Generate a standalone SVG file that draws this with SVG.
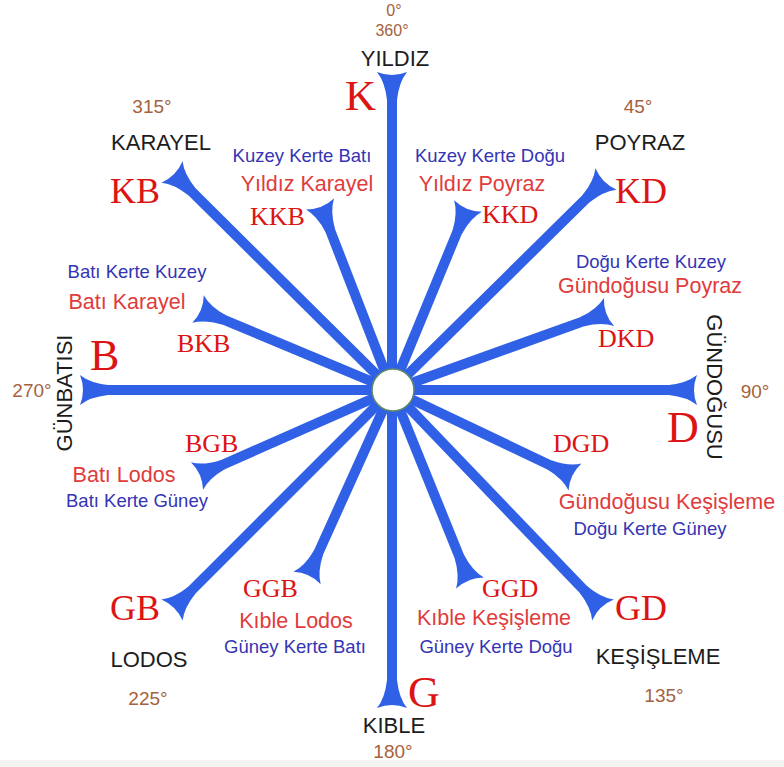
<svg xmlns="http://www.w3.org/2000/svg" xmlns:xlink="http://www.w3.org/1999/xlink" width="784" height="767" viewBox="0 0 784 767">
<style>
.ray{stroke:#3060e6;stroke-width:10;fill:none;stroke-linecap:butt}
.ah{fill:#3060e6}
.blk{font-family:"Liberation Sans",Arial,sans-serif;font-size:22px;fill:#1c1c1c;text-anchor:middle}
.deg{font-family:"Liberation Sans",Arial,sans-serif;font-size:19px;fill:#a5623c;text-anchor:middle}
.blu{font-family:"Liberation Sans",Arial,sans-serif;font-size:18.5px;fill:#3434b4;text-anchor:middle}
.red{font-family:"Liberation Sans",Arial,sans-serif;font-size:21.5px;fill:#e03c3c;text-anchor:middle}
.ser{font-family:"Liberation Serif","Times New Roman",serif;fill:#dc1414}
.s1{font-size:44px}.s2{font-size:36px}.s3{font-size:26px}
</style>
<defs>
<path id="ah" d="M-15,0 Q0,6 15,0 Q7,10 5,28 L-5,28 Q-7,10 -15,0 Z"/>
</defs>
<rect x="0" y="0" width="784" height="767" fill="#ffffff"/>
<rect x="0" y="760" width="784" height="7" fill="#f3f3f3"/>
<g id="connectors">
<line class="ray" x1="392" y1="390" x2="392" y2="84"/>
<line class="ray" x1="392" y1="390" x2="463.4" y2="217.1"/>
<line class="ray" x1="392" y1="390" x2="597.5" y2="187.4"/>
<line class="ray" x1="392" y1="390" x2="597.7" y2="316.1"/>
<line class="ray" x1="392" y1="390" x2="685" y2="390"/>
<line class="ray" x1="392" y1="390" x2="564.2" y2="471.9"/>
<line class="ray" x1="392" y1="390" x2="594.7" y2="601.3"/>
<line class="ray" x1="392" y1="390" x2="465.5" y2="571.9"/>
<line class="ray" x1="392" y1="390" x2="392" y2="696"/>
<line class="ray" x1="392" y1="390" x2="311.9" y2="567.1"/>
<line class="ray" x1="392" y1="390" x2="180.5" y2="601.5"/>
<line class="ray" x1="392" y1="390" x2="208" y2="471.2"/>
<line class="ray" x1="392" y1="390" x2="92" y2="390"/>
<line class="ray" x1="392" y1="390" x2="209.1" y2="313.6"/>
<line class="ray" x1="392" y1="390" x2="180.5" y2="180.4"/>
<line class="ray" x1="392" y1="390" x2="324.3" y2="215.2"/>
<g class="ah">
<use xlink:href="#ah" href="#ah" transform="translate(392,72) rotate(0)"/>
<use xlink:href="#ah" href="#ah" transform="translate(468,206) rotate(22.4)"/>
<use xlink:href="#ah" href="#ah" transform="translate(606,179) rotate(45.4)"/>
<use xlink:href="#ah" href="#ah" transform="translate(609,312) rotate(70.2)"/>
<use xlink:href="#ah" href="#ah" transform="translate(697,390) rotate(90)"/>
<use xlink:href="#ah" href="#ah" transform="translate(575,477) rotate(115.4)"/>
<use xlink:href="#ah" href="#ah" transform="translate(603,610) rotate(136.2)"/>
<use xlink:href="#ah" href="#ah" transform="translate(470,583) rotate(158)"/>
<use xlink:href="#ah" href="#ah" transform="translate(392,708) rotate(180)"/>
<use xlink:href="#ah" href="#ah" transform="translate(307,578) rotate(204.3)"/>
<use xlink:href="#ah" href="#ah" transform="translate(172,610) rotate(225)"/>
<use xlink:href="#ah" href="#ah" transform="translate(197,476) rotate(246.2)"/>
<use xlink:href="#ah" href="#ah" transform="translate(80,390) rotate(270)"/>
<use xlink:href="#ah" href="#ah" transform="translate(198,309) rotate(292.7)"/>
<use xlink:href="#ah" href="#ah" transform="translate(172,172) rotate(314.7)"/>
<use xlink:href="#ah" href="#ah" transform="translate(320,204) rotate(338.8)"/>
</g>
</g>
<g id="center"><circle cx="393" cy="390" r="21" fill="#ffffff" stroke="#5f8a6a" stroke-width="1.5"/></g>
<g id="n-K">
<text class="deg" x="394" y="16" style="font-size:16px">0°</text>
<text class="deg" x="392" y="36" style="font-size:16px">360°</text>
<text class="blk" x="395" y="66">YILDIZ</text>
<text class="ser s1" x="345" y="110" style="font-size:43px">K</text>
</g>
<g id="n-KKB">
<text class="blu" x="302" y="162">Kuzey Kerte Batı</text>
<text class="red" x="307" y="191">Yıldız Karayel</text>
<text class="ser s3" x="250" y="225">KKB</text>
</g>
<g id="n-KKD">
<text class="blu" x="490" y="162">Kuzey Kerte Doğu</text>
<text class="red" x="482" y="191">Yıldız Poyraz</text>
<text class="ser s3" x="482" y="223">KKD</text>
</g>
<g id="n-KB">
<text class="deg" x="152" y="113">315°</text>
<text class="blk" x="161" y="150">KARAYEL</text>
<text class="ser s2" x="110" y="203">KB</text>
</g>
<g id="n-KD">
<text class="deg" x="638" y="113">45°</text>
<text class="blk" x="640" y="150">POYRAZ</text>
<text class="ser s2" x="615" y="203">KD</text>
</g>
<g id="n-DKD">
<text class="blu" x="651" y="268">Doğu Kerte Kuzey</text>
<text class="red" x="650" y="293">Gündoğusu Poyraz</text>
<text class="ser s3" x="598" y="347">DKD</text>
</g>
<g id="n-BKB">
<text class="blu" x="137" y="278">Batı Kerte Kuzey</text>
<text class="red" x="127" y="309">Batı Karayel</text>
<text class="ser s3" x="177" y="352">BKB</text>
</g>
<g id="n-B">
<text class="ser s1" x="90" y="370">B</text>
<text class="deg" x="32" y="397">270°</text>
<text class="blk" transform="translate(72,393) rotate(-90)" x="0" y="0">GÜNBATISI</text>
</g>
<g id="n-D">
<text class="blk" transform="translate(707,387) rotate(90)" x="0" y="0">GÜNDOĞUSU</text>
<text class="deg" x="755" y="398">90°</text>
<text class="ser s1" x="667" y="442">D</text>
</g>
<g id="n-BGB">
<text class="ser s3" x="185" y="452">BGB</text>
<text class="red" x="124" y="482">Batı Lodos</text>
<text class="blu" x="137" y="507">Batı Kerte Güney</text>
</g>
<g id="n-DGD">
<text class="ser s3" x="553" y="452">DGD</text>
<text class="red" x="667" y="509">Gündoğusu Keşişleme</text>
<text class="blu" x="650" y="535">Doğu Kerte Güney</text>
</g>
<g id="n-GB">
<text class="ser s2" x="110" y="620">GB</text>
<text class="blk" x="149" y="667">LODOS</text>
<text class="deg" x="148" y="705">225°</text>
</g>
<g id="n-GGB">
<text class="ser s3" x="243" y="597">GGB</text>
<text class="red" x="296" y="628">Kıble Lodos</text>
<text class="blu" x="295" y="653">Güney Kerte Batı</text>
</g>
<g id="n-GGD">
<text class="ser s3" x="482" y="597">GGD</text>
<text class="red" x="494" y="625">Kıble Keşişleme</text>
<text class="blu" x="496" y="653">Güney Kerte Doğu</text>
</g>
<g id="n-GD">
<text class="ser s2" x="615" y="620">GD</text>
<text class="blk" x="658" y="664">KEŞİŞLEME</text>
<text class="deg" x="664" y="702">135°</text>
</g>
<g id="n-G">
<text class="ser s1" x="408" y="707">G</text>
<text class="blk" x="394" y="733">KIBLE</text>
<text class="deg" x="393" y="758">180°</text>
</g>
</svg>
